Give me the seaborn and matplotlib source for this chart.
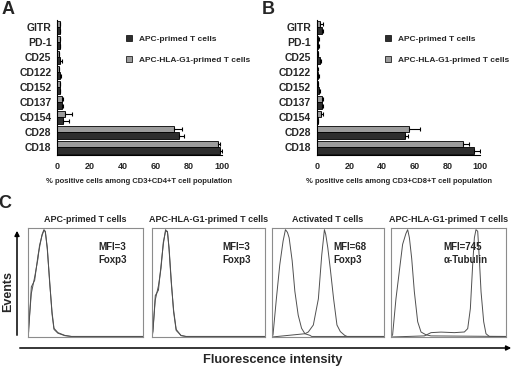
import pandas as pd
import seaborn as sns
import matplotlib.pyplot as plt
from matplotlib.patches import Patch

# surface markers, top to bottom
markers = ['GITR', 'PD-1', 'CD25', 'CD122', 'CD152', 'CD137', 'CD154', 'CD28', 'CD18']
APC = 'APC-primed T cells'
G1 = 'APC-HLA-G1-primed T cells'

# panel A: CD3+CD4+ (% positive, mean and error)
a_apc = [1.6, 1.6, 2.0, 2.0, 1.6, 3.0, 3.7, 74, 99]
a_apc_err = [0.3, 0.3, 1.0, 0.7, 0.5, 0.4, 3.3, 3.0, 1.0]
a_g1 = [1.6, 1.6, 1.0, 1.0, 1.6, 3.0, 4.7, 71, 97.5]
a_g1_err = [0.3, 0.3, 0.4, 0.4, 0.4, 0.4, 4.5, 5.0, 1.5]

# panel B: CD3+CD8+
b_apc = [3.5, 1.0, 2.0, 1.0, 1.4, 3.5, 0.8, 54, 96]
b_apc_err = [0.6, 0.3, 0.5, 0.5, 0.5, 0.6, 0.3, 2.0, 3.5]
b_g1 = [2.0, 1.0, 0.6, 0.4, 0.6, 3.0, 2.5, 56.5, 89.5]
b_g1_err = [1.6, 0.3, 0.3, 0.3, 0.3, 1.0, 1.5, 6.5, 3.5]

# panel C: histogram outlines (x, y as fraction of the box)
h1_x = [0.0, 0.006, 0.029, 0.058, 0.087, 0.10, 0.122, 0.139, 0.151, 0.168, 0.188, 0.209, 0.226, 0.26, 0.32, 0.377, 1.0]
h1_y = [0.0, 0.05, 0.46, 0.52, 0.75, 0.82, 0.94, 0.985, 0.96, 0.82, 0.50, 0.23, 0.08, 0.04, 0.015, 0.005, 0.005]
h1b_y = [0.0, 0.10, 0.40, 0.55, 0.72, 0.84, 0.93, 0.98, 0.97, 0.80, 0.52, 0.21, 0.07, 0.035, 0.012, 0.005, 0.005]
h2_x = [0.0, 0.009, 0.029, 0.057, 0.08, 0.10, 0.12, 0.137, 0.151, 0.171, 0.191, 0.214, 0.257, 0.30, 1.0]
h2_y = [0.0, 0.05, 0.38, 0.43, 0.66, 0.85, 0.985, 0.96, 0.82, 0.51, 0.23, 0.06, 0.015, 0.005, 0.005]
h2b_y = [0.0, 0.08, 0.34, 0.47, 0.63, 0.87, 0.97, 0.97, 0.80, 0.49, 0.25, 0.07, 0.012, 0.005, 0.005]
h3_x = [0.0, 0.009, 0.039, 0.069, 0.099, 0.12, 0.138, 0.153, 0.18, 0.204, 0.234, 0.264, 0.294, 0.339, 0.354, 1.0]
h3_y = [0.0, 0.02, 0.35, 0.66, 0.88, 0.985, 0.96, 0.91, 0.70, 0.42, 0.20, 0.08, 0.03, 0.015, 0.005, 0.005]
h3r_x = [0.0, 0.294, 0.324, 0.369, 0.414, 0.444, 0.468, 0.48, 0.498, 0.52, 0.55, 0.58, 0.61, 0.649, 0.67, 1.0]
h3r_y = [0.0, 0.03, 0.046, 0.11, 0.35, 0.75, 0.985, 0.94, 0.82, 0.63, 0.35, 0.11, 0.05, 0.015, 0.005, 0.005]
h4_x = [0.0, 0.014, 0.043, 0.072, 0.101, 0.13, 0.145, 0.16, 0.18, 0.203, 0.232, 0.261, 0.304, 0.348, 1.0]
h4_y = [0.0, 0.02, 0.35, 0.60, 0.85, 0.95, 0.985, 0.91, 0.72, 0.415, 0.14, 0.046, 0.02, 0.01, 0.005]
h4r_x = [0.0, 0.29, 0.348, 0.435, 0.551, 0.638, 0.667, 0.69, 0.71, 0.725, 0.739, 0.754, 0.768, 0.783, 0.806, 0.826, 0.855, 1.0]
h4r_y = [0.0, 0.01, 0.04, 0.045, 0.04, 0.046, 0.077, 0.26, 0.66, 0.91, 0.985, 0.97, 0.72, 0.415, 0.14, 0.03, 0.005, 0.005]

hist_titles = ['APC-primed T cells', 'APC-HLA-G1-primed T cells', 'Activated T cells', 'APC-HLA-G1-primed T cells']
hist_mfi = ['MFI=3', 'MFI=3', 'MFI=68', 'MFI=745']
hist_stain = ['Foxp3', 'Foxp3', 'Foxp3', 'α-Tubulin']

sns.set_theme(style="white")
plt.rcParams['font.family'] = ['Liberation Sans', 'DejaVu Sans']
plt.rcParams['font.weight'] = 'bold'

dark = '#2e2e2e'
grey = '#9c9c9c'

fig = plt.figure(figsize=(5.2, 3.67), dpi=100)


def bar_panel(rect, apc, apc_err, g1, g1_err, xlabel):
    ax = fig.add_axes(rect)
    df = pd.DataFrame({'marker': markers * 2,
                       'value': apc + g1,
                       'group': [APC] * len(markers) + [G1] * len(markers)})
    sns.barplot(data=df, x='value', y='marker', hue='group', order=markers,
                hue_order=[G1, APC], palette={APC: dark, G1: grey}, orient='h',
                width=0.9, edgecolor='black', linewidth=0.6, errorbar=None,
                legend=False, ax=ax)
    # one-sided error bars
    for cont, errs in zip(ax.containers, [g1_err, apc_err]):
        for bar, e in zip(cont, errs):
            yc = bar.get_y() + bar.get_height() / 2
            ax.errorbar(bar.get_width(), yc, xerr=[[0], [e]], fmt='none',
                        ecolor='black', elinewidth=0.8, capsize=1.5, capthick=0.8)
    ax.set_xlim(0, 100)
    ax.set_ylim(8.5, -0.5)
    ax.set_xticks([0, 20, 40, 60, 80, 100])
    ax.tick_params(axis='x', labelsize=6.5, length=0, pad=5)
    ax.tick_params(axis='y', labelsize=7.5, length=0, pad=4)
    for lab in ax.get_xticklabels() + ax.get_yticklabels():
        lab.set_fontweight('bold')
    ax.set_ylabel('')
    ax.set_xlabel(xlabel, fontsize=5.5, fontweight='bold', labelpad=5)
    sns.despine(ax=ax)
    for s in ['left', 'bottom']:
        ax.spines[s].set_color('black')
        ax.spines[s].set_linewidth(0.8)
    handles = [Patch(facecolor=dark, edgecolor='black', linewidth=0.5, label=APC),
               Patch(facecolor=grey, edgecolor='black', linewidth=0.5, label=G1)]
    ax.legend(handles=handles, loc='upper left', bbox_to_anchor=(0.42, 0.89),
              frameon=False, fontsize=6, handlelength=0.7, handleheight=0.7,
              handletextpad=0.8, labelspacing=1.6, borderpad=0, borderaxespad=0,
              prop={'weight': 'bold', 'size': 6})
    return ax


bar_panel([0.1096, 0.578, 0.317, 0.368], a_apc, a_apc_err, a_g1, a_g1_err,
          '% positive cells among CD3+CD4+T cell population')
bar_panel([0.609, 0.578, 0.315, 0.368], b_apc, b_apc_err, b_g1, b_g1_err,
          '% positive cells among CD3+CD8+T cell population')

# panel C histograms
boxes = [(28, 115), (152, 113), (272, 112), (391, 115)]
curves = [[(h1_x, h1_y), (h1_x, h1b_y)],
          [(h2_x, h2_y), (h2_x, h2b_y)],
          [(h3_x, h3_y), (h3r_x, h3r_y)],
          [(h4_x, h4_y), (h4r_x, h4r_y)]]
text_x = [0.61, 0.62, 0.55, 0.455]
for i, (left, w) in enumerate(boxes):
    ax = fig.add_axes([left / 520, 1 - 337 / 367, w / 520, 109 / 367])
    for cx, cy in curves[i]:
        sns.lineplot(x=cx, y=cy, ax=ax, color='#505050', linewidth=0.7)
    ax.set_xlim(0, 1)
    ax.set_ylim(0, 1.0)
    ax.set_xticks([])
    ax.set_yticks([])
    for s in ax.spines.values():
        s.set_color('#8c8c8c')
        s.set_linewidth(0.8)
    ax.set_title(hist_titles[i], fontsize=6.5, fontweight='bold', pad=4)
    ax.text(text_x[i], 0.83, hist_mfi[i], transform=ax.transAxes, fontsize=7,
            fontweight='bold', va='center')
    ax.text(text_x[i], 0.71, hist_stain[i], transform=ax.transAxes, fontsize=7,
            fontweight='bold', va='center')

# overlay for letters, arrows and axis words (pixel coordinates)
ov = fig.add_axes([0, 0, 1, 1])
ov.set_xlim(0, 520)
ov.set_ylim(367, 0)
ov.axis('off')
ov.patch.set_visible(False)
ov.text(8, 10, 'A', fontsize=13, fontweight='bold', ha='center', va='center')
ov.text(268.5, 10, 'B', fontsize=13, fontweight='bold', ha='center', va='center')
ov.text(5, 203.5, 'C', fontsize=13, fontweight='bold', ha='center', va='center')
ov.annotate('', xy=(17, 228), xytext=(17, 338),
            arrowprops=dict(arrowstyle='-|>', color='black', lw=1.1, mutation_scale=7))
ov.annotate('', xy=(514, 348), xytext=(17, 348),
            arrowprops=dict(arrowstyle='-|>', color='black', lw=1.1, mutation_scale=7))
ov.text(8, 291, 'Events', fontsize=9, fontweight='bold', rotation=90,
        ha='center', va='center')
ov.text(273, 360, 'Fluorescence intensity', fontsize=9.3, fontweight='bold',
        ha='center', va='center')

fig.savefig('out.png', dpi=100, facecolor='white')
